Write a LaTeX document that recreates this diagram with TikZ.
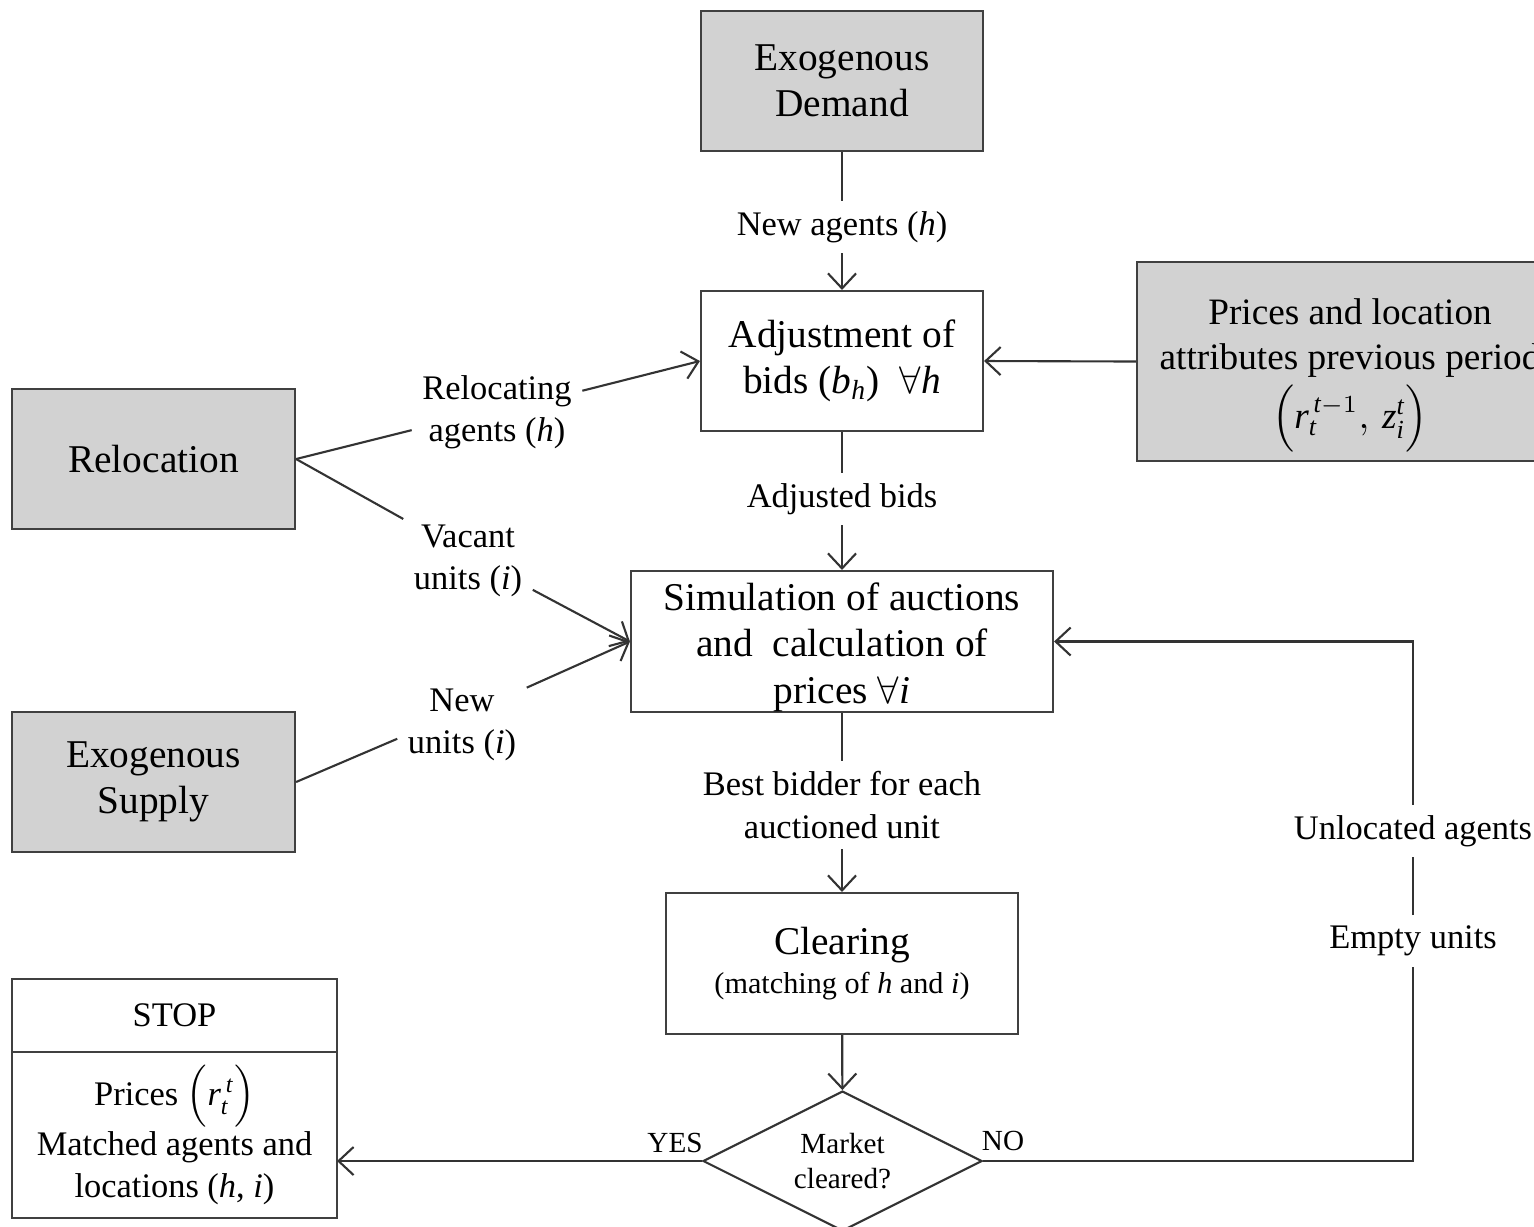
\documentclass[tikz,border=0pt]{standalone}
\usepackage{amsmath,amssymb}
\usepackage{fontspec}
\setmainfont{Liberation Serif}
\usepackage{tikz}
\usetikzlibrary{arrows.meta,shapes.geometric}
\newcommand{\vv}[1]{\mathit{#1}}

\begin{document}
\begin{tikzpicture}[scale=1.0,>={Straight Barb[length=1.5mm,width=2.8mm]},
  box/.style={draw=black!75,semithick,align=center,inner sep=2pt,
    minimum width=2.82cm,minimum height=1.40cm,font=\fontsize{11.2}{13.2}\selectfont},
  inbox/.style={box,fill=gray!35},
  stopbox/.style={draw=black!75,semithick,align=center,minimum width=3.25cm,
    inner sep=2pt,outer sep=0pt,font=\fontsize{9.8}{12}\selectfont},
  decide/.style={draw=black!80,semithick,diamond,aspect=2,inner sep=0pt,
    minimum width=2.79cm,minimum height=1.40cm,align=center,font=\fontsize{8.3}{10}\selectfont},
  lbl/.style={align=center,inner sep=1mm,font=\fontsize{9.8}{12}\selectfont},
  small/.style={inner sep=1pt,font=\fontsize{8.3}{10}\selectfont},
  flow/.style={semithick,draw=black!80}]
  \useasboundingbox (0,0) rectangle (15.34,-12.26);
  \clip (0,0) rectangle (15.34,-12.26);

  % inputs
  \node[inbox] (demand) at (8.42,-0.81) {Exogenous\\Demand};
  \node[inbox,minimum width=4.26cm,minimum height=1.99cm] (prices) at (13.50,-3.615) {};
  \node[align=center,font=\fontsize{10.6}{12.8}\selectfont] (pricestxt) at (13.50,-3.76)
    {Prices and location\\attributes previous period\\[1pt]
    $\Bigl(\vv{r}_{\vv{t}}^{\,\vv{t}-1},\, \vv{z}_{\vv{i}}^{\vv{t}}\Bigr)$};
  \node[inbox,minimum width=2.83cm] (reloc) at (1.535,-4.59) {Relocation};
  \node[inbox,minimum width=2.83cm] (supply) at (1.535,-7.82) {Exogenous\\Supply};

  % main chain
  \node[box] (adjust) at (8.42,-3.61) {Adjustment of\\bids ($\vv{b}_{\vv{h}}$)\ \ $\forall\vv{h}$};
  \node[box,minimum width=4.22cm,minimum height=1.41cm] (sim) at (8.42,-6.415) {};
  \node[align=center,font=\fontsize{11.2}{13.2}\selectfont] (simtxt) at (8.42,-6.47)
    {Simulation of auctions\\and\ \ calculation of\\prices\ $\forall\vv{i}$};
  \node[box,minimum width=3.52cm,minimum height=1.41cm] (clear) at (8.42,-9.635)
    {Clearing\\[-2pt]{\fontsize{8.6}{10}\selectfont(matching of \textit{h} and \textit{i})}};
  \node[decide] (market) at (8.425,-11.61) {Market\\cleared?};
  \node[stopbox,minimum height=0.73cm] (stop) at (1.745,-10.155) {STOP};
  \node[stopbox,minimum height=1.66cm,anchor=north] (stopres) at (stop.south)
    {Prices $\Bigl(\vv{r}_{\vv{t}}^{\,\vv{t}}\Bigr)$\\Matched agents and\\locations (\textit{h}, \textit{i})};

  % labels
  \node[lbl] (lnewag) at (8.42,-2.27) {New agents (\textit{h})};
  \node[lbl] (ladj) at (8.42,-4.99) {Adjusted bids};
  \node[lbl] (lbest) at (8.42,-8.05) {Best bidder for each\\auctioned unit};
  \node[lbl] (lreloc) at (4.97,-4.12) {Relocating\\agents (\textit{h})};
  \node[lbl] (lvac) at (4.68,-5.61) {Vacant\\units (\textit{i})};
  \node[lbl] (lnewu) at (4.62,-7.25) {New\\units (\textit{i})};
  \node[lbl] (lunloc) at (14.13,-8.31) {Unlocated agents};
  \node[lbl] (lempty) at (14.13,-9.41) {Empty units};
  \node[small] (lyes) at (6.75,-11.43) {YES};
  \node[small] (lno) at (10.03,-11.41) {NO};

  % connectors
  \draw[flow] (demand) -- (lnewag);
  \draw[flow,->] (lnewag) -- (adjust);
  \draw[flow,->] (prices.west) -- (adjust.east);
  \draw[flow] (reloc.east) -- (lreloc.192);
  \draw[flow,->] (lreloc.14) -- (adjust.west);
  \draw[flow] (reloc.east) -- (lvac.147);
  \draw[flow,->] (lvac.336) -- (sim.west);
  \draw[flow] (supply.east) -- (lnewu.192);
  \draw[flow,->] (lnewu.30) -- (sim.west);
  \draw[flow] (adjust) -- (ladj);
  \draw[flow,->] (ladj) -- (sim);
  \draw[flow] (sim) -- (lbest);
  \draw[flow,->] (lbest) -- (clear);
  \draw[flow,->] (clear) -- (market);
  \draw[flow,->] (market.west) -- (market.west -| stopres.east);
  \draw[flow] (market.east) -- (market.east -| lempty) -- (lempty);
  \draw[flow] (lempty) -- (lunloc);
  \draw[flow,->] (lunloc) |- (sim.east);
\end{tikzpicture}
\end{document}
